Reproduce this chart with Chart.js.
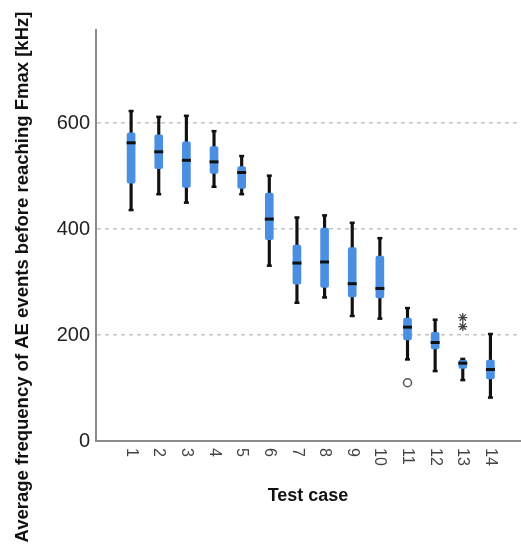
<!DOCTYPE html>
<html>
<head>
<meta charset="utf-8">
<script src="https://cdn.jsdelivr.net/npm/chart.js@4"></script>
<style>
  html, body { margin: 0; padding: 0; background: #fff; overflow: hidden; }
  canvas { display: block; }
</style>
</head>
<body>
<canvas id="boxChart" width="521" height="546"></canvas>
<script>
// test cases on the x axis
const testCases = ["1", "2", "3", "4", "5", "6", "7", "8", "9", "10", "11", "12", "13", "14"];

// box plot values per test case [kHz]
const whiskerLow  = [436, 466, 450, 480, 466, 331, 261, 271, 236, 231, 154, 132, 115, 82];
const quartile1   = [487, 514, 479, 505, 477, 380, 296, 290, 272, 270, 191, 174, 137, 117];
const medians     = [563, 546, 530, 527, 507, 419, 336, 338, 297, 288, 215, 186, 147, 135];
const quartile3   = [582, 578, 565, 556, 518, 468, 370, 402, 365, 349, 232, 205, 153, 153];
const whiskerHigh = [623, 612, 614, 585, 538, 501, 422, 426, 412, 383, 251, 229, 155, 202];

// outliers (case number, value)
const outlierCases  = [11];
const outlierValues = [110];
const extremeCases  = [13, 13];
const extremeValues = [233, 216];

const yTicks = [0, 200, 400, 600];
const yTitle = "Average frequency of AE events before reaching Fmax [kHz]";
const xTitle = "Test case";

const boxBlue = "#4b8fe3";

// helper: pair case numbers with values
const pos = (i) => i + 1;
const pts = (vals) => vals.map((v, i) => ({ x: pos(i), y: v }));

// draws the rotated x tick labels and the y axis title
const labelsPlugin = {
    id: "labelsPlugin",
    afterDraw(chart) {
        const ctx = chart.ctx;
        const xs = chart.scales.x;
        ctx.save();
        ctx.fillStyle = "#444";
        ctx.font = "16px 'Liberation Sans', Arial, sans-serif";
        ctx.textAlign = "left";
        ctx.textBaseline = "middle";
        testCases.forEach((lab, i) => {
            const px = xs.getPixelForValue(pos(i));
            ctx.save();
            ctx.translate(px, xs.top + 7);
            ctx.rotate(Math.PI / 2);
            ctx.fillText(lab, 0, 0);
            ctx.restore();
        });
        ctx.restore();

        // y title
        ctx.save();
        ctx.fillStyle = "#111";
        ctx.font = "bold 18.5px 'Liberation Sans', Arial, sans-serif";
        ctx.textAlign = "center";
        ctx.textBaseline = "alphabetic";
        ctx.translate(28, 277);
        ctx.rotate(-Math.PI / 2);
        ctx.fillText(yTitle, 0, 0);
        ctx.restore();
    }
};

new Chart("boxChart", {
    type: "bar",
    data: {
        datasets: [
            {
                // whiskers
                type: "bar",
                data: whiskerLow.map((lo, i) => ({ x: pos(i), y: [lo, whiskerHigh[i]] })),
                backgroundColor: "#111",
                barThickness: 2.5,
                grouped: false,
                order: 4,
            },
            {
                // boxes
                type: "bar",
                data: quartile1.map((q, i) => ({ x: pos(i), y: [q, quartile3[i]] })),
                backgroundColor: boxBlue,
                barThickness: 8,
                borderRadius: 2,
                borderSkipped: false,
                grouped: false,
                order: 3,
            },
            {
                // whisker caps
                type: "scatter",
                data: pts(whiskerLow).concat(pts(whiskerHigh)),
                pointStyle: "line",
                pointRadius: 2.5,
                borderColor: "#111",
                borderWidth: 2.5,
                order: 2,
            },
            {
                // medians
                type: "scatter",
                data: pts(medians),
                pointStyle: "line",
                pointRadius: 4.5,
                borderColor: "#111",
                borderWidth: 3,
                order: 1,
            },
            {
                // outliers
                type: "scatter",
                data: outlierCases.map((c, i) => ({ x: c, y: outlierValues[i] })),
                pointStyle: "circle",
                pointRadius: 4,
                borderColor: "#555",
                backgroundColor: "rgba(0,0,0,0)",
                borderWidth: 1.5,
                order: 0,
            },
            {
                // extremes
                type: "scatter",
                data: extremeCases.map((c, i) => ({ x: c, y: extremeValues[i] })),
                pointStyle: "star",
                pointRadius: 4.5,
                borderColor: "#444",
                borderWidth: 1.3,
                order: 0,
            },
        ],
    },
    options: {
        responsive: false,
        animation: false,
        layout: { autoPadding: false, padding: { top: 30, right: 1, left: 0, bottom: 0 } },
        plugins: {
            legend: { display: false },
            tooltip: { enabled: false },
        },
        scales: {
            x: {
                type: "linear",
                offset: false,
                min: -0.27,
                max: 15.07,
                grid: { display: false, offset: false },
                border: { display: true, color: "#8a8a8a", width: 2 },
                ticks: { display: false },
                title: {
                    display: true,
                    text: xTitle,
                    color: "#111",
                    font: { family: "'Liberation Sans', Arial", size: 18, weight: "bold" },
                    padding: { top: 0, bottom: 39 },
                },
                afterFit(scale) { scale.height = 105; },
            },
            y: {
                min: 0,
                max: 776,
                afterBuildTicks(scale) { scale.ticks = yTicks.map((v) => ({ value: v })); },
                grid: {
                    color: (c) => (c.tick && c.tick.value === 0 ? "rgba(0,0,0,0)" : "#c4c4c4"),
                    lineWidth: 1.5,
                    drawTicks: false,
                },
                border: { display: true, color: "#8a8a8a", width: 2, dash: [4, 4] },
                ticks: {
                    color: "#222",
                    padding: 6,
                    font: { family: "'Liberation Sans', Arial", size: 20 },
                },
                afterFit(scale) { scale.width = 96; },
            },
        },
    },
    plugins: [labelsPlugin],
});
</script>
</body>
</html>
